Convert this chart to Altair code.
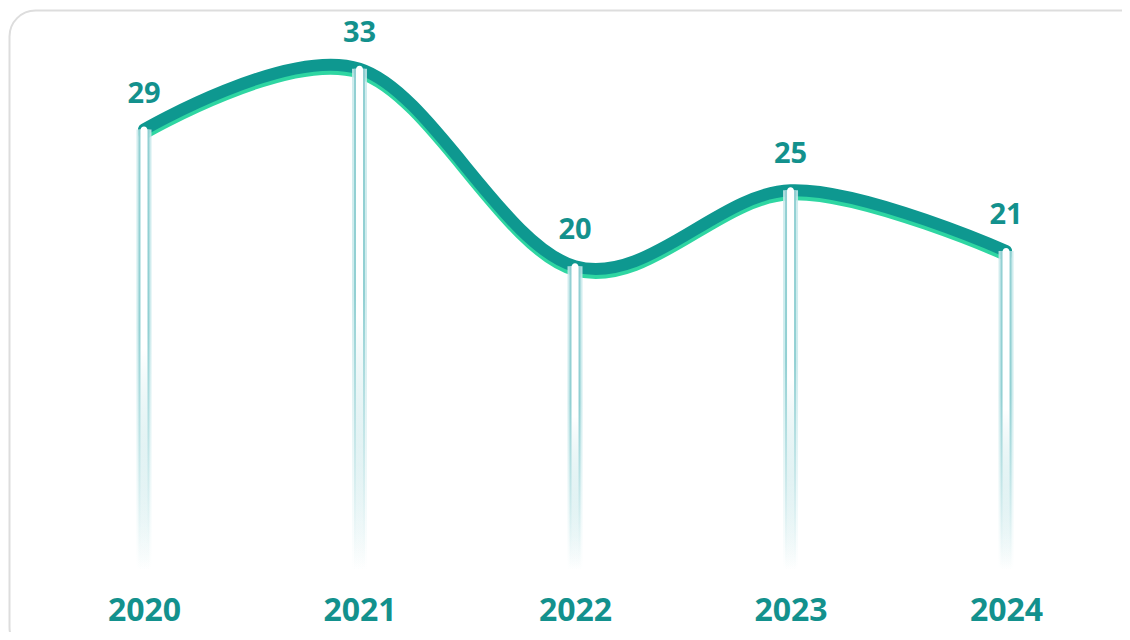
import altair as alt
import pandas as pd

# ---- data ----
years = [2020, 2021, 2022, 2023, 2024]
values = [29, 33, 20, 25, 21]

df = pd.DataFrame({"year": years, "value": values})
card = pd.DataFrame({"k": [0]})

TEAL = "#13918d"
LINE = "#0e9890"
MINT = "#2fd6a2"
FONT = "Open Sans"

xscale = alt.Scale(domain=[2019.369, 2024.538], nice=False, zero=False, padding=0)
yscale = alt.Scale(domain=[0, 37], nice=False, zero=True)

x_enc = alt.X(
    "year:Q",
    scale=xscale,
    axis=alt.Axis(
        values=years, format="d", title=None, grid=False, domain=False, ticks=False,
        labelFont=FONT, labelFontWeight="bold", labelFontSize=32, labelColor=TEAL,
        labelPadding=25, labelOverlap=False,
    ),
)
y_enc = alt.Y("value:Q", scale=yscale, axis=None)

base = alt.Chart(df).encode(x=x_enc, y=y_enc)

card_layer = alt.Chart(card).mark_rect(
    fill="transparent", stroke="#dddddd", strokeWidth=2, cornerRadius=26, clip=False
).encode(
    x=alt.value(1.5), x2=alt.value(1140), y=alt.value(2.5), y2=alt.value(645)
)

shadow = base.mark_line(
    interpolate="cardinal", strokeWidth=12, color=MINT, yOffset=4, strokeCap="round"
)
main = base.mark_line(
    interpolate="cardinal", strokeWidth=12, color=LINE, strokeCap="round"
)

def vgrad(top, bottom, mid_off=0.45):
    return alt.Gradient(
        gradient="linear", x1=0, x2=0, y1=0, y2=1,
        stops=[
            alt.GradientStop(color=top, offset=0),
            alt.GradientStop(color=top, offset=mid_off),
            alt.GradientStop(color=bottom, offset=1),
        ],
    )

bar_outer = base.mark_bar(
    size=15, color=vgrad("rgba(200,233,235,0.85)", "rgba(200,233,235,0)")
).encode(y2=alt.datum(0))
bar_mid = base.mark_bar(
    size=11, color=vgrad("rgba(140,205,208,0.9)", "rgba(160,214,218,0)")
).encode(y2=alt.datum(0))
bar_inner = base.mark_bar(
    size=7, yOffset=-3, cornerRadiusTopLeft=3.5, cornerRadiusTopRight=3.5,
    color=vgrad("rgba(255,255,255,1)", "rgba(255,255,255,0)", 0.5),
).encode(y2=alt.datum(0))

labels = base.mark_text(
    font=FONT, fontWeight="bold", fontSize=29, color=TEAL, dy=-36, baseline="middle"
).encode(text=alt.Text("value:Q"))

chart = alt.layer(
    card_layer, shadow, main, bar_outer, bar_mid, bar_inner, labels
).properties(
    width=1114, height=562,
    autosize=alt.AutoSizeParams(type="none"),
    padding={"left": 0, "top": 0, "right": 0, "bottom": 62},
    background="white",
).configure_view(stroke="transparent")

chart.save("out.html", embed_options={"renderer": "svg", "actions": False})
